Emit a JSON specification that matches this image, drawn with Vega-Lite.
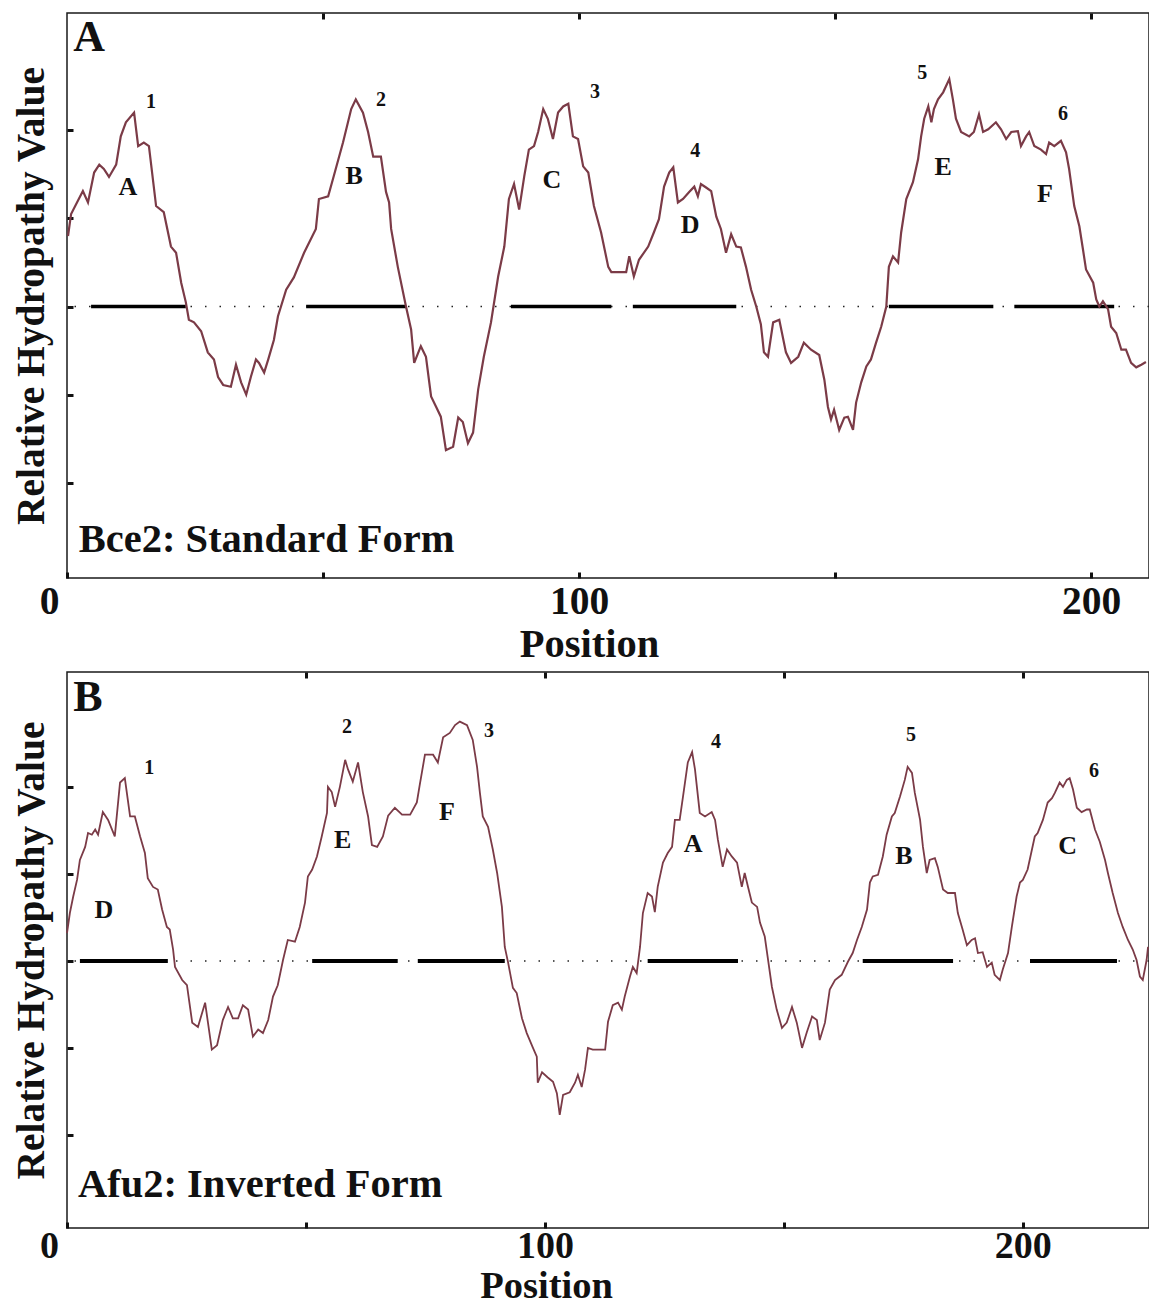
{
  "$schema": "https://vega.github.io/schema/vega-lite/v6.json",
  "padding": {"left": 10, "top": 10, "right": 2, "bottom": 0},
  "spacing": 3,
  "config": {
    "font": "Liberation Serif",
    "view": {"stroke": "#1a1a1a", "strokeWidth": 1.5},
    "axis": {"titleFontWeight": "bold", "labelFontWeight": "bold", "titleColor": "#111", "labelColor": "#111", "tickColor": "#111", "grid": false, "domain": false},
    "text": {"font": "Liberation Serif", "fontWeight": "bold", "color": "#111"}
  },
  "datasets": {
    "A": [
      {"pos":0.2,"hyd":0.80},{"pos":0.8,"hyd":1.05},{"pos":2.3,"hyd":1.22},{"pos":3.1,"hyd":1.31},{"pos":4.1,"hyd":1.18},{"pos":5.3,"hyd":1.52},{"pos":6.3,"hyd":1.61},{"pos":7.2,"hyd":1.56},{"pos":8.2,"hyd":1.47},{"pos":9.6,"hyd":1.61},{"pos":10.5,"hyd":1.93},{"pos":11.5,"hyd":2.09},{"pos":13.1,"hyd":2.20},{"pos":13.9,"hyd":1.82},{"pos":15.0,"hyd":1.86},{"pos":16.0,"hyd":1.82},{"pos":17.4,"hyd":1.14},{"pos":18.9,"hyd":1.07},{"pos":20.3,"hyd":0.68},{"pos":21.3,"hyd":0.61},{"pos":22.3,"hyd":0.27},{"pos":23.2,"hyd":0.05},{"pos":23.8,"hyd":-0.15},{"pos":24.8,"hyd":-0.18},{"pos":26.2,"hyd":-0.28},{"pos":27.5,"hyd":-0.52},{"pos":28.7,"hyd":-0.60},{"pos":29.5,"hyd":-0.80},{"pos":30.5,"hyd":-0.89},{"pos":32.0,"hyd":-0.91},{"pos":33.0,"hyd":-0.66},{"pos":34.0,"hyd":-0.86},{"pos":35.0,"hyd":-1.00},{"pos":35.9,"hyd":-0.80},{"pos":36.9,"hyd":-0.60},{"pos":37.5,"hyd":-0.64},{"pos":38.5,"hyd":-0.75},{"pos":39.3,"hyd":-0.60},{"pos":40.4,"hyd":-0.38},{"pos":41.2,"hyd":-0.11},{"pos":42.8,"hyd":0.19},{"pos":44.3,"hyd":0.33},{"pos":46.3,"hyd":0.61},{"pos":48.6,"hyd":0.88},{"pos":49.2,"hyd":1.22},{"pos":51.0,"hyd":1.25},{"pos":52.1,"hyd":1.48},{"pos":53.9,"hyd":1.86},{"pos":55.5,"hyd":2.24},{"pos":56.4,"hyd":2.35},{"pos":57.8,"hyd":2.20},{"pos":58.8,"hyd":1.98},{"pos":59.8,"hyd":1.70},{"pos":61.3,"hyd":1.70},{"pos":62.3,"hyd":1.30},{"pos":62.9,"hyd":1.18},{"pos":63.3,"hyd":0.88},{"pos":64.6,"hyd":0.45},{"pos":66.2,"hyd":0.00},{"pos":67.2,"hyd":-0.26},{"pos":67.8,"hyd":-0.64},{"pos":69.1,"hyd":-0.45},{"pos":70.1,"hyd":-0.57},{"pos":71.1,"hyd":-1.02},{"pos":72.1,"hyd":-1.14},{"pos":73.0,"hyd":-1.25},{"pos":74.0,"hyd":-1.63},{"pos":75.4,"hyd":-1.59},{"pos":76.4,"hyd":-1.26},{"pos":77.3,"hyd":-1.31},{"pos":78.3,"hyd":-1.55},{"pos":79.3,"hyd":-1.43},{"pos":80.3,"hyd":-0.94},{"pos":81.4,"hyd":-0.57},{"pos":82.8,"hyd":-0.18},{"pos":84.2,"hyd":0.34},{"pos":85.4,"hyd":0.68},{"pos":86.3,"hyd":1.22},{"pos":87.3,"hyd":1.39},{"pos":88.3,"hyd":1.10},{"pos":89.3,"hyd":1.48},{"pos":90.2,"hyd":1.78},{"pos":91.2,"hyd":1.82},{"pos":92.0,"hyd":1.98},{"pos":93.0,"hyd":2.24},{"pos":93.9,"hyd":2.13},{"pos":94.9,"hyd":1.90},{"pos":95.9,"hyd":2.20},{"pos":96.9,"hyd":2.27},{"pos":97.9,"hyd":2.30},{"pos":98.8,"hyd":1.93},{"pos":99.8,"hyd":1.90},{"pos":100.8,"hyd":1.59},{"pos":101.8,"hyd":1.52},{"pos":102.9,"hyd":1.14},{"pos":104.3,"hyd":0.84},{"pos":105.7,"hyd":0.45},{"pos":106.3,"hyd":0.39},{"pos":109.2,"hyd":0.39},{"pos":109.8,"hyd":0.57},{"pos":110.7,"hyd":0.34},{"pos":111.7,"hyd":0.53},{"pos":113.5,"hyd":0.68},{"pos":114.6,"hyd":0.84},{"pos":115.6,"hyd":0.99},{"pos":116.6,"hyd":1.36},{"pos":117.6,"hyd":1.52},{"pos":118.4,"hyd":1.58},{"pos":119.3,"hyd":1.18},{"pos":120.3,"hyd":1.22},{"pos":121.5,"hyd":1.30},{"pos":122.5,"hyd":1.36},{"pos":123.2,"hyd":1.25},{"pos":123.8,"hyd":1.39},{"pos":124.8,"hyd":1.35},{"pos":125.8,"hyd":1.31},{"pos":126.8,"hyd":1.02},{"pos":127.7,"hyd":0.88},{"pos":128.7,"hyd":0.61},{"pos":129.7,"hyd":0.82},{"pos":130.7,"hyd":0.68},{"pos":131.6,"hyd":0.67},{"pos":132.6,"hyd":0.45},{"pos":133.6,"hyd":0.19},{"pos":134.6,"hyd":0.00},{"pos":135.5,"hyd":-0.20},{"pos":136.1,"hyd":-0.52},{"pos":136.9,"hyd":-0.57},{"pos":137.9,"hyd":-0.18},{"pos":139.1,"hyd":-0.15},{"pos":140.4,"hyd":-0.52},{"pos":141.4,"hyd":-0.64},{"pos":142.8,"hyd":-0.57},{"pos":143.9,"hyd":-0.41},{"pos":145.3,"hyd":-0.49},{"pos":146.9,"hyd":-0.55},{"pos":147.9,"hyd":-0.83},{"pos":148.6,"hyd":-1.14},{"pos":149.2,"hyd":-1.28},{"pos":149.8,"hyd":-1.17},{"pos":150.8,"hyd":-1.40},{"pos":151.8,"hyd":-1.26},{"pos":152.5,"hyd":-1.25},{"pos":153.5,"hyd":-1.40},{"pos":154.1,"hyd":-1.09},{"pos":155.1,"hyd":-0.86},{"pos":156.1,"hyd":-0.68},{"pos":157.0,"hyd":-0.60},{"pos":158.0,"hyd":-0.41},{"pos":159.0,"hyd":-0.23},{"pos":160.0,"hyd":0.00},{"pos":160.5,"hyd":0.45},{"pos":161.3,"hyd":0.57},{"pos":162.3,"hyd":0.50},{"pos":162.9,"hyd":0.84},{"pos":163.9,"hyd":1.22},{"pos":165.2,"hyd":1.41},{"pos":166.2,"hyd":1.67},{"pos":166.8,"hyd":1.93},{"pos":167.4,"hyd":2.13},{"pos":168.2,"hyd":2.27},{"pos":168.8,"hyd":2.09},{"pos":169.3,"hyd":2.24},{"pos":170.1,"hyd":2.35},{"pos":171.1,"hyd":2.43},{"pos":172.3,"hyd":2.58},{"pos":173.0,"hyd":2.35},{"pos":173.6,"hyd":2.13},{"pos":174.6,"hyd":1.98},{"pos":176.2,"hyd":1.93},{"pos":177.1,"hyd":1.98},{"pos":178.1,"hyd":2.18},{"pos":178.9,"hyd":1.98},{"pos":179.9,"hyd":2.01},{"pos":181.4,"hyd":2.09},{"pos":182.4,"hyd":2.01},{"pos":183.4,"hyd":1.90},{"pos":184.4,"hyd":1.98},{"pos":185.7,"hyd":1.99},{"pos":186.3,"hyd":1.82},{"pos":187.3,"hyd":1.93},{"pos":187.9,"hyd":1.98},{"pos":188.9,"hyd":1.82},{"pos":190.2,"hyd":1.78},{"pos":191.2,"hyd":1.73},{"pos":191.8,"hyd":1.86},{"pos":192.8,"hyd":1.82},{"pos":194.1,"hyd":1.88},{"pos":195.1,"hyd":1.75},{"pos":195.7,"hyd":1.56},{"pos":196.7,"hyd":1.14},{"pos":197.7,"hyd":0.91},{"pos":198.4,"hyd":0.65},{"pos":199.0,"hyd":0.42},{"pos":200.4,"hyd":0.27},{"pos":201.0,"hyd":0.08},{"pos":201.6,"hyd":0.00},{"pos":202.3,"hyd":0.06},{"pos":203.3,"hyd":-0.03},{"pos":203.9,"hyd":-0.23},{"pos":204.9,"hyd":-0.30},{"pos":205.9,"hyd":-0.49},{"pos":206.8,"hyd":-0.49},{"pos":207.8,"hyd":-0.64},{"pos":208.8,"hyd":-0.69},{"pos":209.8,"hyd":-0.66},{"pos":210.7,"hyd":-0.63}
    ],
    "B": [
      {"pos":0.0,"hyd":0.32},{"pos":0.6,"hyd":0.55},{"pos":1.3,"hyd":0.74},{"pos":2.1,"hyd":0.93},{"pos":2.7,"hyd":1.16},{"pos":3.8,"hyd":1.31},{"pos":4.4,"hyd":1.47},{"pos":5.2,"hyd":1.45},{"pos":5.9,"hyd":1.51},{"pos":6.5,"hyd":1.45},{"pos":7.5,"hyd":1.71},{"pos":8.6,"hyd":1.62},{"pos":10.0,"hyd":1.43},{"pos":11.1,"hyd":2.05},{"pos":12.1,"hyd":2.10},{"pos":13.2,"hyd":1.66},{"pos":14.2,"hyd":1.66},{"pos":15.3,"hyd":1.43},{"pos":16.3,"hyd":1.24},{"pos":16.9,"hyd":0.95},{"pos":18.0,"hyd":0.85},{"pos":19.0,"hyd":0.82},{"pos":19.9,"hyd":0.59},{"pos":20.9,"hyd":0.39},{"pos":21.5,"hyd":0.36},{"pos":22.2,"hyd":0.13},{"pos":22.6,"hyd":-0.07},{"pos":24.1,"hyd":-0.22},{"pos":25.1,"hyd":-0.28},{"pos":26.2,"hyd":-0.71},{"pos":27.4,"hyd":-0.76},{"pos":28.9,"hyd":-0.48},{"pos":30.3,"hyd":-1.02},{"pos":31.4,"hyd":-0.97},{"pos":32.6,"hyd":-0.68},{"pos":33.7,"hyd":-0.53},{"pos":34.7,"hyd":-0.66},{"pos":35.8,"hyd":-0.66},{"pos":36.8,"hyd":-0.51},{"pos":37.9,"hyd":-0.56},{"pos":38.9,"hyd":-0.87},{"pos":40.0,"hyd":-0.79},{"pos":41.0,"hyd":-0.83},{"pos":42.1,"hyd":-0.68},{"pos":43.1,"hyd":-0.41},{"pos":44.1,"hyd":-0.28},{"pos":45.2,"hyd":0.01},{"pos":46.2,"hyd":0.24},{"pos":47.7,"hyd":0.22},{"pos":48.7,"hyd":0.39},{"pos":49.8,"hyd":0.67},{"pos":50.4,"hyd":0.97},{"pos":51.3,"hyd":1.05},{"pos":52.3,"hyd":1.20},{"pos":53.3,"hyd":1.43},{"pos":54.4,"hyd":1.70},{"pos":54.6,"hyd":2.00},{"pos":55.4,"hyd":1.94},{"pos":56.1,"hyd":1.77},{"pos":57.1,"hyd":2.00},{"pos":58.2,"hyd":2.31},{"pos":58.8,"hyd":2.20},{"pos":59.8,"hyd":2.06},{"pos":60.9,"hyd":2.28},{"pos":61.9,"hyd":1.94},{"pos":63.0,"hyd":1.66},{"pos":63.8,"hyd":1.33},{"pos":64.9,"hyd":1.31},{"pos":66.1,"hyd":1.43},{"pos":67.2,"hyd":1.67},{"pos":68.6,"hyd":1.76},{"pos":70.1,"hyd":1.68},{"pos":71.8,"hyd":1.68},{"pos":73.2,"hyd":1.82},{"pos":73.8,"hyd":2.02},{"pos":74.9,"hyd":2.37},{"pos":76.6,"hyd":2.37},{"pos":77.6,"hyd":2.28},{"pos":78.7,"hyd":2.57},{"pos":80.1,"hyd":2.62},{"pos":81.2,"hyd":2.71},{"pos":82.2,"hyd":2.75},{"pos":83.7,"hyd":2.71},{"pos":84.9,"hyd":2.54},{"pos":85.8,"hyd":2.23},{"pos":86.4,"hyd":1.93},{"pos":87.0,"hyd":1.66},{"pos":88.1,"hyd":1.54},{"pos":89.1,"hyd":1.28},{"pos":90.0,"hyd":1.01},{"pos":91.0,"hyd":0.62},{"pos":91.6,"hyd":0.16},{"pos":92.3,"hyd":-0.02},{"pos":93.3,"hyd":-0.31},{"pos":94.1,"hyd":-0.37},{"pos":95.2,"hyd":-0.66},{"pos":96.2,"hyd":-0.83},{"pos":97.5,"hyd":-1.00},{"pos":98.3,"hyd":-1.10},{"pos":98.5,"hyd":-1.40},{"pos":99.4,"hyd":-1.28},{"pos":100.6,"hyd":-1.34},{"pos":101.7,"hyd":-1.39},{"pos":102.5,"hyd":-1.52},{"pos":103.1,"hyd":-1.77},{"pos":103.8,"hyd":-1.54},{"pos":105.2,"hyd":-1.51},{"pos":106.3,"hyd":-1.40},{"pos":106.9,"hyd":-1.31},{"pos":107.7,"hyd":-1.45},{"pos":108.4,"hyd":-1.25},{"pos":109.0,"hyd":-1.00},{"pos":110.0,"hyd":-1.02},{"pos":112.6,"hyd":-1.02},{"pos":113.2,"hyd":-0.70},{"pos":114.2,"hyd":-0.51},{"pos":115.3,"hyd":-0.48},{"pos":116.1,"hyd":-0.56},{"pos":116.7,"hyd":-0.41},{"pos":117.8,"hyd":-0.18},{"pos":118.4,"hyd":-0.07},{"pos":119.2,"hyd":-0.14},{"pos":119.9,"hyd":0.16},{"pos":120.5,"hyd":0.55},{"pos":121.5,"hyd":0.78},{"pos":122.4,"hyd":0.74},{"pos":123.0,"hyd":0.56},{"pos":123.6,"hyd":0.85},{"pos":124.7,"hyd":1.13},{"pos":125.7,"hyd":1.24},{"pos":126.6,"hyd":1.31},{"pos":127.2,"hyd":1.62},{"pos":128.2,"hyd":1.62},{"pos":128.9,"hyd":1.89},{"pos":129.9,"hyd":2.28},{"pos":130.8,"hyd":2.40},{"pos":131.4,"hyd":2.20},{"pos":132.4,"hyd":1.70},{"pos":133.5,"hyd":1.66},{"pos":134.9,"hyd":1.71},{"pos":135.6,"hyd":1.62},{"pos":136.2,"hyd":1.39},{"pos":137.2,"hyd":1.08},{"pos":138.1,"hyd":1.28},{"pos":139.1,"hyd":1.20},{"pos":140.2,"hyd":1.13},{"pos":141.2,"hyd":0.85},{"pos":141.8,"hyd":1.01},{"pos":142.5,"hyd":0.85},{"pos":143.3,"hyd":0.67},{"pos":144.4,"hyd":0.62},{"pos":145.0,"hyd":0.44},{"pos":146.0,"hyd":0.28},{"pos":146.7,"hyd":0.01},{"pos":147.5,"hyd":-0.30},{"pos":148.5,"hyd":-0.56},{"pos":149.6,"hyd":-0.77},{"pos":150.6,"hyd":-0.71},{"pos":151.7,"hyd":-0.53},{"pos":152.7,"hyd":-0.71},{"pos":153.8,"hyd":-1.00},{"pos":154.8,"hyd":-0.82},{"pos":155.9,"hyd":-0.64},{"pos":156.9,"hyd":-0.68},{"pos":157.5,"hyd":-0.91},{"pos":158.6,"hyd":-0.71},{"pos":159.6,"hyd":-0.33},{"pos":160.7,"hyd":-0.22},{"pos":162.1,"hyd":-0.16},{"pos":163.4,"hyd":-0.01},{"pos":164.4,"hyd":0.09},{"pos":165.3,"hyd":0.24},{"pos":166.3,"hyd":0.39},{"pos":167.4,"hyd":0.59},{"pos":168.0,"hyd":0.90},{"pos":168.6,"hyd":0.97},{"pos":169.7,"hyd":0.99},{"pos":170.7,"hyd":1.20},{"pos":171.5,"hyd":1.45},{"pos":172.6,"hyd":1.66},{"pos":173.2,"hyd":1.70},{"pos":174.3,"hyd":1.89},{"pos":175.3,"hyd":2.08},{"pos":175.9,"hyd":2.23},{"pos":176.8,"hyd":2.16},{"pos":177.4,"hyd":1.93},{"pos":178.5,"hyd":1.62},{"pos":179.1,"hyd":1.31},{"pos":179.9,"hyd":1.01},{"pos":180.5,"hyd":1.16},{"pos":181.6,"hyd":1.18},{"pos":182.2,"hyd":1.08},{"pos":183.3,"hyd":0.82},{"pos":184.3,"hyd":0.78},{"pos":185.8,"hyd":0.78},{"pos":186.4,"hyd":0.55},{"pos":187.4,"hyd":0.36},{"pos":188.3,"hyd":0.18},{"pos":189.3,"hyd":0.24},{"pos":190.0,"hyd":0.26},{"pos":190.6,"hyd":0.09},{"pos":191.6,"hyd":0.10},{"pos":192.5,"hyd":-0.07},{"pos":193.5,"hyd":-0.02},{"pos":194.1,"hyd":-0.16},{"pos":195.2,"hyd":-0.22},{"pos":195.8,"hyd":-0.10},{"pos":196.9,"hyd":0.09},{"pos":197.7,"hyd":0.39},{"pos":198.7,"hyd":0.74},{"pos":199.4,"hyd":0.90},{"pos":200.0,"hyd":0.93},{"pos":201.0,"hyd":1.05},{"pos":202.5,"hyd":1.43},{"pos":203.1,"hyd":1.47},{"pos":204.2,"hyd":1.62},{"pos":205.2,"hyd":1.82},{"pos":206.1,"hyd":1.87},{"pos":206.7,"hyd":1.93},{"pos":207.7,"hyd":2.05},{"pos":208.4,"hyd":2.00},{"pos":209.2,"hyd":2.08},{"pos":209.8,"hyd":2.10},{"pos":210.5,"hyd":1.97},{"pos":211.3,"hyd":1.76},{"pos":212.3,"hyd":1.71},{"pos":213.4,"hyd":1.74},{"pos":214.0,"hyd":1.74},{"pos":215.1,"hyd":1.51},{"pos":216.1,"hyd":1.37},{"pos":217.2,"hyd":1.16},{"pos":217.8,"hyd":1.01},{"pos":218.8,"hyd":0.78},{"pos":219.9,"hyd":0.55},{"pos":220.9,"hyd":0.39},{"pos":222.0,"hyd":0.24},{"pos":223.0,"hyd":0.13},{"pos":223.8,"hyd":0.01},{"pos":224.5,"hyd":-0.18},{"pos":225.1,"hyd":-0.22},{"pos":225.9,"hyd":0.01},{"pos":226.2,"hyd":0.16}
    ],
    "segA": [
      {"start":4.7,"end":23.2},{"start":46.7,"end":66.2},{"start":86.7,"end":106.3},{"start":110.5,"end":130.7},{"start":160.5,"end":180.9},{"start":185.0,"end":204.5}
    ],
    "segB": [
      {"start":2.7,"end":21.1},{"start":51.3,"end":69.2},{"start":73.4,"end":91.6},{"start":121.5,"end":140.4},{"start":166.5,"end":185.4},{"start":201.5,"end":219.7}
    ],
    "labA": [
      {"pos":16.4,"hyd":2.32,"label":"1","kind":"peak"},{"pos":61.3,"hyd":2.34,"label":"2","kind":"peak"},{"pos":103.1,"hyd":2.43,"label":"3","kind":"peak"},{"pos":122.7,"hyd":1.77,"label":"4","kind":"peak"},{"pos":167.0,"hyd":2.65,"label":"5","kind":"peak"},{"pos":194.5,"hyd":2.18,"label":"6","kind":"peak"},
      {"pos":11.9,"hyd":1.36,"label":"A","kind":"seg"},{"pos":56.1,"hyd":1.48,"label":"B","kind":"seg"},{"pos":94.7,"hyd":1.43,"label":"C","kind":"seg"},{"pos":121.7,"hyd":0.92,"label":"D","kind":"seg"},{"pos":171.1,"hyd":1.58,"label":"E","kind":"seg"},{"pos":191.0,"hyd":1.28,"label":"F","kind":"seg"},
      {"pos":1.2,"hyd":2.90,"label":"A","kind":"panel"},
      {"pos":2.3,"hyd":-2.78,"label":"Bce2: Standard Form","kind":"caption"}
    ],
    "labB": [
      {"pos":17.2,"hyd":2.22,"label":"1","kind":"peak"},{"pos":58.6,"hyd":2.69,"label":"2","kind":"peak"},{"pos":88.3,"hyd":2.64,"label":"3","kind":"peak"},{"pos":135.8,"hyd":2.51,"label":"4","kind":"peak"},{"pos":176.6,"hyd":2.60,"label":"5","kind":"peak"},{"pos":214.9,"hyd":2.18,"label":"6","kind":"peak"},
      {"pos":7.7,"hyd":0.59,"label":"D","kind":"seg"},{"pos":57.7,"hyd":1.39,"label":"E","kind":"seg"},{"pos":79.5,"hyd":1.71,"label":"F","kind":"seg"},{"pos":131.0,"hyd":1.34,"label":"A","kind":"seg"},{"pos":175.1,"hyd":1.21,"label":"B","kind":"seg"},{"pos":209.4,"hyd":1.32,"label":"C","kind":"seg"},
      {"pos":1.3,"hyd":2.87,"label":"B","kind":"panel"},
      {"pos":2.3,"hyd":-2.71,"label":"Afu2: Inverted Form","kind":"caption"}
    ]
  },
  "vconcat": [
    {
      "width": 1082, "height": 565,
      "resolve": {"axis": {"x": "independent", "y": "independent"}},
      "layer": [
        {"data": {"values": [{}]}, "mark": {"type": "rule", "color": "#222", "strokeWidth": 1.5, "strokeDash": [1.5, 13]},
         "encoding": {"y": {"datum": 0, "type": "quantitative", "scale": {"domain": [-3.08, 3.33], "nice": false, "zero": false}, "axis": null}}},
        {"data": {"name": "segA"}, "mark": {"type": "rule", "color": "#000", "strokeWidth": 3.5},
         "encoding": {
           "x": {"field": "start", "type": "quantitative", "scale": {"domain": [0, 211.3], "nice": false, "zero": false},
                 "axis": {"orient": "top", "values": [50, 100, 150, 200], "labels": false, "title": null, "tickSize": -6, "tickWidth": 3}},
           "x2": {"field": "end"},
           "y": {"datum": 0, "type": "quantitative", "axis": null}}},
        {"data": {"name": "A"}, "mark": {"type": "line", "color": "#7b3b47", "strokeWidth": 2.2},
         "encoding": {
           "x": {"field": "pos", "type": "quantitative",
                 "axis": {"orient": "bottom", "values": [0, 50, 100, 150, 200], "labelExpr": "datum.value % 100 === 0 ? datum.label : ''",
                          "title": "Position", "titleX": 522, "titleY": 78, "titleBaseline": "alphabetic", "titleAlign": "center", "titleFontSize": 40.5,
                          "labelFontSize": 39.5, "labelBaseline": "alphabetic", "labelPadding": 41, "labelFlush": false,
                          "labelOffset": {"condition": {"test": "datum.value === 0", "value": -18}, "value": 0},
                          "tickSize": -6, "tickWidth": 3}},
           "y": {"field": "hyd", "type": "quantitative",
                 "axis": {"values": [-2, -1, 0, 1, 2], "labels": false, "title": "Relative Hydropathy Value", "titleFontSize": 39.5,
                          "titleX": -16, "titleY": 282.5, "titleAngle": -90, "titleBaseline": "bottom", "titleAlign": "center",
                          "tickSize": -6, "tickWidth": 3}}}},
        {"data": {"name": "labA"}, "transform": [{"filter": "datum.kind === 'peak'"}], "mark": {"type": "text", "fontSize": 20, "align": "center", "baseline": "middle"},
         "encoding": {"x": {"field": "pos", "type": "quantitative", "axis": null}, "y": {"field": "hyd", "type": "quantitative", "axis": null}, "text": {"field": "label"}}},
        {"data": {"name": "labA"}, "transform": [{"filter": "datum.kind === 'seg'"}], "mark": {"type": "text", "fontSize": 26, "align": "center", "baseline": "middle"},
         "encoding": {"x": {"field": "pos", "type": "quantitative", "axis": null}, "y": {"field": "hyd", "type": "quantitative", "axis": null}, "text": {"field": "label"}}},
        {"data": {"name": "labA"}, "transform": [{"filter": "datum.kind === 'panel'"}], "mark": {"type": "text", "fontSize": 44, "align": "left", "baseline": "alphabetic"},
         "encoding": {"x": {"field": "pos", "type": "quantitative", "axis": null}, "y": {"field": "hyd", "type": "quantitative", "axis": null}, "text": {"field": "label"}}},
        {"data": {"name": "labA"}, "transform": [{"filter": "datum.kind === 'caption'"}], "mark": {"type": "text", "fontSize": 40.5, "align": "left", "baseline": "alphabetic"},
         "encoding": {"x": {"field": "pos", "type": "quantitative", "axis": null}, "y": {"field": "hyd", "type": "quantitative", "axis": null}, "text": {"field": "label"}}}
      ]
    },
    {
      "width": 1082, "height": 556,
      "resolve": {"axis": {"x": "independent", "y": "independent"}},
      "layer": [
        {"data": {"values": [{}]}, "mark": {"type": "rule", "color": "#222", "strokeWidth": 1.5, "strokeDash": [1.5, 13]},
         "encoding": {"y": {"datum": 0, "type": "quantitative", "scale": {"domain": [-3.07, 3.32], "nice": false, "zero": false}, "axis": null}}},
        {"data": {"name": "segB"}, "mark": {"type": "rule", "color": "#000", "strokeWidth": 4},
         "encoding": {
           "x": {"field": "start", "type": "quantitative", "scale": {"domain": [0, 226.4], "nice": false, "zero": false},
                 "axis": {"orient": "top", "values": [50, 100, 150, 200], "labels": false, "title": null, "tickSize": -6, "tickWidth": 3}},
           "x2": {"field": "end"},
           "y": {"datum": 0, "type": "quantitative", "axis": null}}},
        {"data": {"name": "B"}, "mark": {"type": "line", "color": "#7b3b47", "strokeWidth": 1.8},
         "encoding": {
           "x": {"field": "pos", "type": "quantitative",
                 "axis": {"orient": "bottom", "values": [0, 50, 100, 150, 200], "labelExpr": "datum.value % 100 === 0 ? datum.label : ''",
                          "title": "Position", "titleX": 479, "titleY": 69.5, "titleBaseline": "alphabetic", "titleAlign": "center", "titleFontSize": 38.5,
                          "labelFontSize": 38, "labelBaseline": "alphabetic", "labelPadding": 35, "labelFlush": false,
                          "labelOffset": {"condition": {"test": "datum.value === 0", "value": -18}, "value": 0},
                          "tickSize": -6, "tickWidth": 3}},
           "y": {"field": "hyd", "type": "quantitative",
                 "axis": {"values": [-2, -1, 0, 1, 2], "labels": false, "title": "Relative Hydropathy Value", "titleFontSize": 39.5,
                          "titleX": -16, "titleY": 278, "titleAngle": -90, "titleBaseline": "bottom", "titleAlign": "center",
                          "tickSize": -6, "tickWidth": 3}}}},
        {"data": {"name": "labB"}, "transform": [{"filter": "datum.kind === 'peak'"}], "mark": {"type": "text", "fontSize": 20, "align": "center", "baseline": "middle"},
         "encoding": {"x": {"field": "pos", "type": "quantitative", "axis": null}, "y": {"field": "hyd", "type": "quantitative", "axis": null}, "text": {"field": "label"}}},
        {"data": {"name": "labB"}, "transform": [{"filter": "datum.kind === 'seg'"}], "mark": {"type": "text", "fontSize": 26, "align": "center", "baseline": "middle"},
         "encoding": {"x": {"field": "pos", "type": "quantitative", "axis": null}, "y": {"field": "hyd", "type": "quantitative", "axis": null}, "text": {"field": "label"}}},
        {"data": {"name": "labB"}, "transform": [{"filter": "datum.kind === 'panel'"}], "mark": {"type": "text", "fontSize": 44, "align": "left", "baseline": "alphabetic"},
         "encoding": {"x": {"field": "pos", "type": "quantitative", "axis": null}, "y": {"field": "hyd", "type": "quantitative", "axis": null}, "text": {"field": "label"}}},
        {"data": {"name": "labB"}, "transform": [{"filter": "datum.kind === 'caption'"}], "mark": {"type": "text", "fontSize": 40.5, "align": "left", "baseline": "alphabetic"},
         "encoding": {"x": {"field": "pos", "type": "quantitative", "axis": null}, "y": {"field": "hyd", "type": "quantitative", "axis": null}, "text": {"field": "label"}}}
      ]
    }
  ]
}
